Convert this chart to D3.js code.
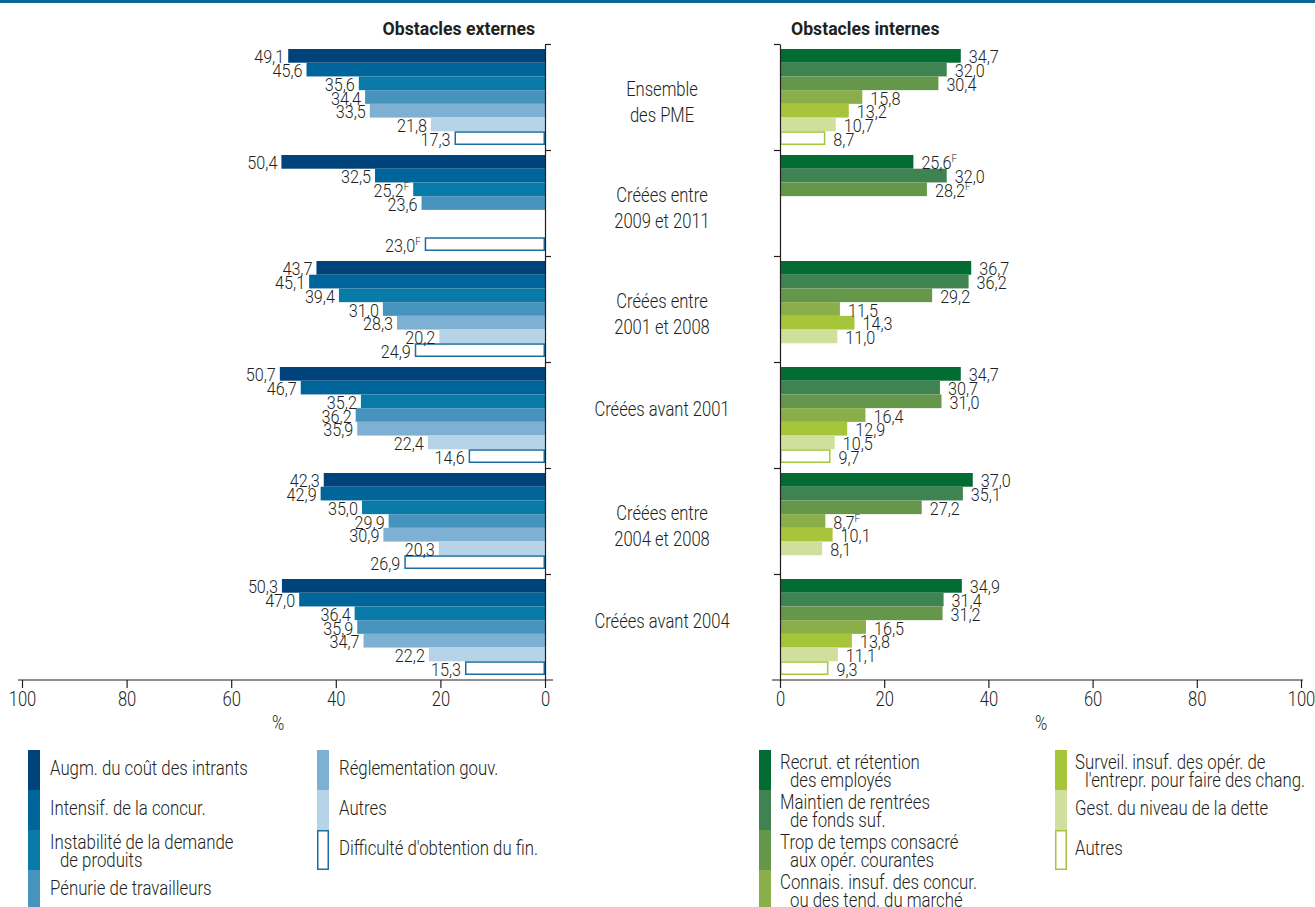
<!DOCTYPE html>
<html>
<head>
<meta charset="utf-8">
<script src="https://cdn.jsdelivr.net/npm/d3@7"></script>
<style>
body { margin: 0; background: #fff; }
svg text { font-family: Roboto, "DejaVu Sans Condensed", sans-serif; font-weight: 300; fill: #231f20; }
</style>
</head>
<body>
<script>
const w = 1315; // width
const h = 907;  // height

// group labels (middle column)
const groups = [
    ["Ensemble", "des PME"],
    ["Créées entre", "2009 et 2011"],
    ["Créées entre", "2001 et 2008"],
    ["Créées avant 2001"],
    ["Créées entre", "2004 et 2008"],
    ["Créées avant 2004"]
];

// external obstacles (left panel)
const extSeries = [
    ["Augm. du coût des intrants"],
    ["Intensif. de la concur."],
    ["Instabilité de la demande", "de  produits"],
    ["Pénurie de travailleurs"],
    ["Réglementation gouv."],
    ["Autres"],
    ["Difficulté d'obtention du fin."]
];
const extValues = [
    [49.1, 45.6, 35.6, 34.4, 33.5, 21.8, 17.3],
    [50.4, 32.5, 25.2, 23.6, null, null, 23.0],
    [43.7, 45.1, 39.4, 31.0, 28.3, 20.2, 24.9],
    [50.7, 46.7, 35.2, 36.2, 35.9, 22.4, 14.6],
    [42.3, 42.9, 35.0, 29.9, 30.9, 20.3, 26.9],
    [50.3, 47.0, 36.4, 35.9, 34.7, 22.2, 15.3]
];
const extFlags = [[1, 2], [1, 6]]; // [group, bar] marked F

// internal obstacles (right panel)
const intSeries = [
    ["Recrut. et rétention", "des employés"],
    ["Maintien de rentrées", "de fonds suf."],
    ["Trop de temps consacré", "aux opér. courantes"],
    ["Connais. insuf. des concur.", "ou des tend. du marché"],
    ["Surveil. insuf. des opér. de", "l'entrepr. pour faire des chang."],
    ["Gest. du niveau de la dette"],
    ["Autres"]
];
const intValues = [
    [34.7, 32.0, 30.4, 15.8, 13.2, 10.7, 8.7],
    [25.6, 32.0, 28.2, null, null, null, null],
    [36.7, 36.2, 29.2, 11.5, 14.3, 11.0, null],
    [34.7, 30.7, 31.0, 16.4, 12.9, 10.5, 9.7],
    [37.0, 35.1, 27.2, 8.7, 10.1, 8.1, null],
    [34.9, 31.4, 31.2, 16.5, 13.8, 11.1, 9.3]
];
const intFlags = [[1, 0], [1, 2], [4, 3]];

const tickValues = [0, 20, 40, 60, 80, 100];

const extColors = ["#00427a", "#00659a", "#0a7aa8", "#4694be", "#7db0d2", "#b7d3e7", "#fff"];
const intColors = ["#036c33", "#3e8351", "#65974b", "#89ae4a", "#a7c53a", "#d0e09c", "#fff"];
const extOutline = "#1b6e9f";
const intOutline = "#a7c53a";

const fmt = d3.formatLocale({decimal: ",", thousands: " ", grouping: [3], currency: ["", ""]}).format(".1f");

let svg = d3.select("body")
    .append("svg")
    .attr("width", w)
    .attr("height", h);

// narrow text: bigger font squeezed horizontally, like a condensed face
function label(parent, x, y, size, sx, str) {
    return parent.append("text")
        .attr("transform", `translate(${x},${y}) scale(${sx},1)`)
        .style("font-size", size + "px")
        .text(str);
}

// top rule
svg.append("rect")
    .attr("x", 0).attr("y", 0)
    .attr("width", w).attr("height", 3)
    .attr("fill", "#0b6794");

// scales
let y = d3.scaleBand().domain(d3.range(groups.length)).range([44, 680]);
let yIn = d3.scaleBand().domain(d3.range(7)).range([5, y.bandwidth() - 5]);
let yb = d3.scaleLinear().domain([0, groups.length]).range([44, 680]);
let xL = d3.scaleLinear().domain([0, 100]).range([545, 22]);
let xR = d3.scaleLinear().domain([0, 100]).range([780, 1301]);

function flatten(values, flags) {
    let out = [];
    values.forEach((row, g) => row.forEach((v, i) => {
        if (v !== null) out.push({g: g, i: i, v: v, f: flags.some(f => f[0] === g && f[1] === i)});
    }));
    return out;
}

function drawPanel(data, x, colors, outline, side) {
    let gp = svg.append("g");
    let bh = yIn.bandwidth();

    gp.selectAll("rect")
        .data(data)
        .enter()
        .append("rect")
        .attr("x", d => Math.min(x(0), x(d.v)) + (d.i === 6 ? 0.75 : 0))
        .attr("y", d => y(d.g) + yIn(d.i) + (d.i === 6 ? 0.75 : 0))
        .attr("width", d => Math.abs(x(d.v) - x(0)) - (d.i === 6 ? 1.5 : 0))
        .attr("height", d => bh - (d.i === 6 ? 1.5 : 0))
        .attr("fill", d => colors[d.i])
        .attr("stroke", d => d.i === 6 ? outline : "none")
        .attr("stroke-width", 1.5);

    let lab = gp.selectAll("text.val")
        .data(data)
        .enter()
        .append("text")
        .attr("class", "val")
        .attr("transform", d => {
            let tx = side === "left" ? x(d.v) - 4 : x(d.v) + 8;
            let ty = y(d.g) + yIn(d.i) + bh / 2 + 7.5;
            return `translate(${tx},${ty}) scale(0.9,1)`;
        })
        .attr("text-anchor", side === "left" ? "end" : "start")
        .style("font-size", "18px");
    lab.append("tspan").text(d => fmt(d.v));
    lab.filter(d => d.f)
        .append("tspan")
        .attr("dy", -7)
        .style("font-size", "11px")
        .text("F");
}

drawPanel(flatten(extValues, extFlags), xL, extColors, extOutline, "left");
drawPanel(flatten(intValues, intFlags), xR, intColors, intOutline, "right");

// axes
function styleAxis(g) {
    g.attr("font-family", null).attr("font-size", null);
    g.selectAll("line, path").attr("stroke", "#231f20").attr("stroke-width", 1.2);
    g.selectAll("text").style("font-size", "20px").attr("transform", "scale(0.83,1)");
}

let axL = svg.append("g")
    .attr("transform", "translate(0,680)")
    .call(d3.axisBottom(xL).tickValues(tickValues).tickSize(8).tickPadding(4).tickFormat(d3.format("d")));
axL.select(".domain").remove();
axL.append("line").attr("x1", 18).attr("x2", 553);
axL.call(styleAxis);

let axR = svg.append("g")
    .attr("transform", "translate(0,680)")
    .call(d3.axisBottom(xR).tickValues(tickValues).tickSize(8).tickPadding(4).tickFormat(d3.format("d")));
axR.select(".domain").remove();
axR.append("line").attr("x1", 772).attr("x2", 1303);
axR.call(styleAxis);

let vL = svg.append("g")
    .attr("transform", "translate(545,0)")
    .call(d3.axisRight(yb).tickValues(d3.range(groups.length)).tickSize(6).tickSizeOuter(0).tickFormat(""));
vL.call(styleAxis);

let vR = svg.append("g")
    .attr("transform", "translate(780,0)")
    .call(d3.axisLeft(yb).tickValues(d3.range(groups.length)).tickSize(6).tickSizeOuter(0).tickFormat(""));
vR.call(styleAxis);

// % labels
label(svg, 278, 730, 20, 0.83, "%").attr("text-anchor", "middle");
label(svg, 1041, 730, 20, 0.83, "%").attr("text-anchor", "middle");

// panel titles
label(svg, 535, 35, 19, 0.93, "Obstacles externes")
    .attr("text-anchor", "end").style("font-weight", "bold");
label(svg, 791, 35, 19, 0.93, "Obstacles internes")
    .style("font-weight", "bold");

// group labels
groups.forEach((lines, g) => {
    let c = y(g) + y.bandwidth() / 2;
    lines.forEach((t, k) => {
        let ty = lines.length === 2 ? c - 1 + k * 25.5 : c + 1;
        label(svg, 662, ty, 20, 0.83, t).attr("text-anchor", "middle");
    });
});

// legends
function drawLegend(series, colors, outline, cols) {
    series.forEach((s, i) => {
        let c = i < cols[0].n ? cols[0] : cols[1];
        let row = i < cols[0].n ? i : i - cols[0].n;
        let top = 750 + row * 40;
        svg.append("rect")
            .attr("x", c.sx + (i === 6 ? 0.75 : 0))
            .attr("y", top + (i === 6 ? 0.75 : 0))
            .attr("width", 12 - (i === 6 ? 1.5 : 0))
            .attr("height", 40 - (i === 6 ? 1.5 : 0))
            .attr("fill", colors[i])
            .attr("stroke", i === 6 ? outline : "none")
            .attr("stroke-width", 1.5);
        s.forEach((t, k) => {
            let ty = s.length === 1 ? top + 25 : top + 19 + k * 17.5;
            label(svg, c.tx + (k > 0 ? 10 : 0), ty, 20, 0.84, t);
        });
    });
}

drawLegend(extSeries, extColors, extOutline, [{sx: 28, tx: 50, n: 4}, {sx: 317, tx: 339}]);
drawLegend(intSeries, intColors, intOutline, [{sx: 759, tx: 780, n: 4}, {sx: 1055, tx: 1075}]);
</script>
</body>
</html>
